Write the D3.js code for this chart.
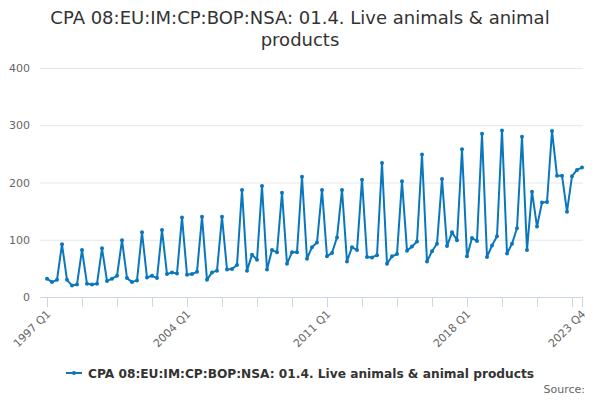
<!DOCTYPE html>
<html>
<head>
<meta charset="utf-8">
<script src="https://cdn.jsdelivr.net/npm/d3@7"></script>
<style>
    body { margin: 0; background: #fff; }
    text { font-family: "DejaVu Sans", sans-serif; }
</style>
</head>
<body>
<div id="chart"></div>
<script>
const titleLines = ["CPA 08:EU:IM:CP:BOP:NSA: 01.4. Live animals & animal", "products"];
const seriesName = "CPA 08:EU:IM:CP:BOP:NSA: 01.4. Live animals & animal products";

const firstYear = 1997;
const lastYear = 2023;
const quarterNames = ["Q1", "Q2", "Q3", "Q4"];

// quarterly values, 1997 Q1 .. 2023 Q4
const values = [
    32, 26, 30, 92,
    30, 20, 22, 82,
    23, 22, 23, 85,
    28, 32, 37, 99,
    33, 26, 29, 113,
    34, 37, 33, 117,
    40, 43, 41, 139,
    39, 40, 44, 140,
    30, 43, 46, 140,
    48, 49, 56, 187,
    46, 74, 65, 194,
    48, 82, 78, 182,
    58, 78, 78, 210,
    67, 87, 95, 187,
    71, 77, 104, 187,
    62, 87, 82, 205,
    70, 69, 73, 234,
    58, 71, 75, 202,
    81, 88, 97, 249,
    62, 80, 93, 206,
    89, 113, 99, 258,
    71, 103, 98, 285,
    70, 90, 106, 291,
    76, 93, 120, 280,
    82, 184, 123, 165,
    166, 290, 212, 212,
    149, 211, 222, 226
];

const yTicks = [0, 100, 200, 300, 400];

const categories = [];
for (let y = firstYear; y <= lastYear; y++) {
    quarterNames.forEach(q => categories.push(`${y} ${q}`));
}
const data = categories.map((c, i) => ({ label: c, value: values[i] }));

const width = 600;
const height = 400;
const color = "#0a77bd";

const svg = d3.select("#chart").append("svg")
    .attr("width", width)
    .attr("height", height);

const x = d3.scalePoint()
    .domain(categories)
    .range([47, 582]);

const y = d3.scaleLinear()
    .domain([0, 400])
    .range([297, 68]);

// title
svg.append("text")
    .attr("x", width / 2)
    .attr("y", 24)
    .attr("text-anchor", "middle")
    .attr("fill", "#333")
    .attr("font-size", "18px")
    .selectAll("tspan")
    .data(titleLines)
    .enter()
    .append("tspan")
    .attr("x", width / 2)
    .attr("dy", (d, i) => i === 0 ? 0 : 22)
    .text(d => d);

// y grid + labels
const yAxis = svg.append("g")
    .attr("transform", "translate(40,0)")
    .call(d3.axisLeft(y).tickValues(yTicks).tickSize(-(583 - 40)).tickPadding(10));
yAxis.select(".domain").remove();
yAxis.selectAll(".tick line").attr("stroke", "#e6e6e6");
yAxis.selectAll(".tick text")
    .attr("fill", "#666")
    .attr("font-size", "11px")
    .attr("font-family", "DejaVu Sans, sans-serif");

// x axis: tick every 7 quarters, label every 7 years, plus the last quarter
const tickCats = categories.filter((c, i) => i % 7 === 0 && i <= categories.length - 3);
tickCats.push(categories[categories.length - 1]);
const labelCats = new Set(categories.filter((c, i) => i % 28 === 0));
labelCats.add(categories[categories.length - 1]);

const xAxis = svg.append("g")
    .attr("transform", "translate(0,297)")
    .call(d3.axisBottom(x).tickValues(tickCats).tickSize(10).tickSizeOuter(0)
        .tickFormat(d => labelCats.has(d) ? d : ""));
xAxis.select(".domain")
    .attr("stroke", "#ccd6eb")
    .attr("d", "M40,0.5H583");
xAxis.selectAll(".tick line").attr("stroke", "#ccd6eb");
xAxis.selectAll(".tick text")
    .attr("fill", "#666")
    .attr("font-size", "11px")
    .attr("font-family", "DejaVu Sans, sans-serif")
    .attr("text-anchor", "end")
    .attr("x", 0)
    .attr("y", 0)
    .attr("dy", "0.35em")
    .attr("transform", "translate(1,15) rotate(-45)");

// line
const line = d3.line()
    .x(d => x(d.label))
    .y(d => y(d.value));

svg.append("path")
    .datum(data)
    .attr("fill", "none")
    .attr("stroke", color)
    .attr("stroke-width", 2)
    .attr("stroke-linejoin", "round")
    .attr("d", line);

svg.selectAll("circle.pt")
    .data(data)
    .enter()
    .append("circle")
    .attr("class", "pt")
    .attr("cx", d => x(d.label))
    .attr("cy", d => y(d.value))
    .attr("r", 2)
    .attr("fill", color);

// legend
const legend = svg.append("g")
    .attr("transform", "translate(66,373)");
legend.append("line")
    .attr("x1", 0).attr("x2", 16)
    .attr("y1", 0).attr("y2", 0)
    .attr("stroke", color)
    .attr("stroke-width", 2);
legend.append("circle")
    .attr("cx", 8).attr("cy", 0).attr("r", 2)
    .attr("fill", color);
legend.append("text")
    .attr("x", 22)
    .attr("y", 4.5)
    .attr("fill", "#333")
    .attr("font-size", "12.2px")
    .attr("font-weight", "bold")
    .text(seriesName);

// credits
svg.append("text")
    .attr("x", 585)
    .attr("y", 393)
    .attr("text-anchor", "end")
    .attr("fill", "#666")
    .attr("font-size", "11px")
    .text("Source:");
</script>
</body>
</html>
